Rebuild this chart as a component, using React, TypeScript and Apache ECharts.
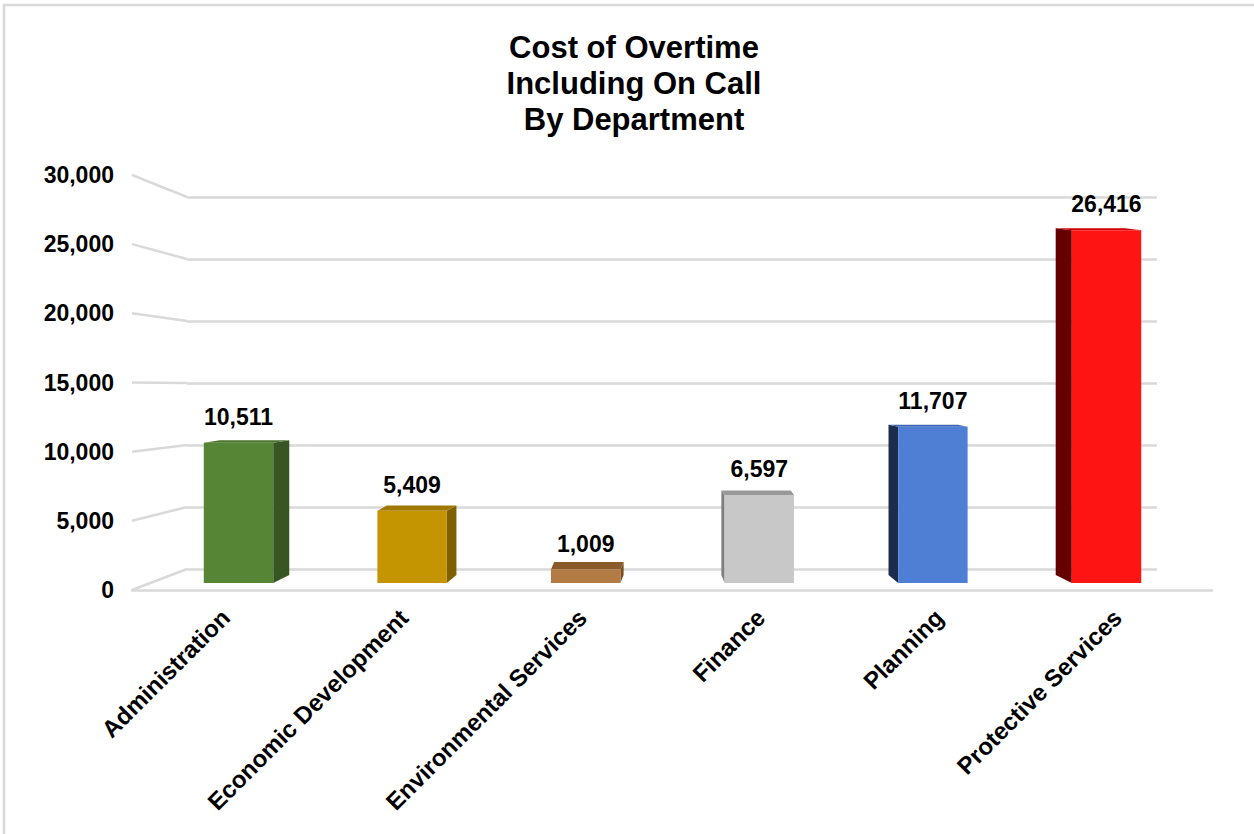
import React, { useEffect, useRef } from "react";
import * as echarts from "echarts";

const titleLines = ["Cost of Overtime", "Including On Call", "By Department"];
const categories = [
  "Administration",
  "Economic Development",
  "Environmental Services",
  "Finance",
  "Planning",
  "Protective Services",
];
const values = [10511, 5409, 1009, 6597, 11707, 26416];
const yTicks = [0, 5000, 10000, 15000, 20000, 25000, 30000];

const frontColors = ["#568536", "#C49500", "#B27B44", "#C8C8C8", "#4F7FD5", "#FF1414"];
const sideColors = ["#375623", "#7F6000", "#7A4E22", "#7F7F7F", "#1C2C4F", "#660000"];
const topColors = ["#4A742D", "#A07A00", "#8A5A2B", "#999999", "#3D66B0", "#CC0000"];

const FONT = "'Liberation Sans', Arial, sans-serif";
const GRID_COLOR = "#D9D9D9";
const fmt = (v: number) => v.toLocaleString("en-US");

export default function App() {
  const ref = useRef<HTMLDivElement>(null);
  useEffect(() => {
    document.body.style.margin = "0";
    const chart = echarts.init(ref.current!, undefined, { renderer: "svg" });
    const option: any = {
      animation: false,
      backgroundColor: "#ffffff",
      title: {
        text: titleLines.join("\n"),
        left: 629,
        top: 24,
        textAlign: "center",
        textStyle: {
          fontFamily: FONT,
          fontWeight: "bold",
          fontSize: 31,
          lineHeight: 36,
          color: "#000",
        },
      },
      grid: [
        { left: 132, top: 175, width: 1080, height: 415 },
        { left: 187, top: 197, width: 970, height: 372 },
        { left: 151.7, top: 182.5, width: 1041.6, height: 400.5 },
        { left: 144.8, top: 182.5, width: 1070.4, height: 400.5 },
      ],
      xAxis: [
        {
          gridIndex: 0,
          type: "value",
          min: 0,
          max: 1,
          axisLine: { show: true, lineStyle: { color: GRID_COLOR, width: 2.5 } },
          axisTick: { show: false },
          axisLabel: { show: false },
          splitLine: { show: false },
        },
        { gridIndex: 1, type: "value", min: 0, max: 1, show: false },
        {
          gridIndex: 2,
          type: "category",
          data: categories,
          axisLine: { show: false },
          axisTick: { show: false },
          axisLabel: { show: false },
        },
        {
          gridIndex: 3,
          type: "category",
          data: categories,
          axisLine: { show: false },
          axisTick: { show: false },
          axisLabel: {
            interval: 0,
            rotate: 45,
            margin: 22,
            padding: [0, 12, 0, 0],
            fontFamily: FONT,
            fontWeight: "bold",
            fontSize: 24,
            color: "#000",
          },
        },
      ],
      yAxis: [
        {
          gridIndex: 0,
          type: "value",
          min: 0,
          max: 30000,
          interval: 5000,
          axisLine: { show: false },
          axisTick: { show: false },
          splitLine: { show: false },
          axisLabel: {
            margin: 18,
            formatter: (v: number) => fmt(v),
            fontFamily: FONT,
            fontWeight: "bold",
            fontSize: 23,
            color: "#000",
          },
        },
        {
          gridIndex: 1,
          type: "value",
          min: 0,
          max: 30000,
          interval: 5000,
          axisLine: { show: false },
          axisTick: { show: false },
          axisLabel: { show: false },
          splitLine: { show: true, lineStyle: { color: GRID_COLOR, width: 2.5 } },
        },
        { gridIndex: 2, type: "value", min: 0, max: 30000, show: false },
        { gridIndex: 3, type: "value", min: 0, max: 30000, show: false },
      ],
      series: [
        {
          type: "custom",
          xAxisIndex: 2,
          yAxisIndex: 2,
          data: values.map((v, i) => [i, v]),
          renderItem: (params: any, api: any) => {
            const i = api.value(0);
            const v = api.value(1);
            const idx = params.dataIndex;
            const base = api.coord([i, 0]);
            const top = api.coord([i, v]);
            const bw = api.size([1, 0])[0] * 0.4;
            const cx = base[0];
            const x0 = cx - bw / 2;
            const x1 = cx + bw / 2;
            const yb = base[1];
            const yt = top[1];
            const dx = -(cx - 672) * 0.037;
            const dyOf = (y: number) => -Math.max(2, 2 + (6 * (y - 430)) / 153);
            const dyt = dyOf(yt);
            const dyb = dyOf(yb);
            const sx = dx > 0 ? x1 : x0;
            const children: any[] = [];
            children.push({
              type: "polygon",
              shape: {
                points: [
                  [sx, yt],
                  [sx + dx, yt + dyt],
                  [sx + dx, yb + dyb],
                  [sx, yb],
                ],
              },
              style: { fill: sideColors[idx] },
            });
            children.push({
              type: "polygon",
              shape: {
                points: [
                  [x0, yt],
                  [x1, yt],
                  [x1 + dx, yt + dyt],
                  [x0 + dx, yt + dyt],
                ],
              },
              style: { fill: topColors[idx] },
            });
            children.push({
              type: "rect",
              shape: { x: x0, y: yt, width: bw, height: yb - yt },
              style: { fill: frontColors[idx] },
            });
            children.push({
              type: "text",
              style: {
                text: fmt(v),
                x: cx,
                y: yt - 26,
                align: "center",
                verticalAlign: "middle",
                fontFamily: FONT,
                fontWeight: "bold",
                fontSize: 23,
                fill: "#000",
              },
            });
            return { type: "group", children };
          },
        },
      ],
    };
    chart.setOption(option);

    const fx = chart.convertToPixel({ xAxisIndex: 0 }, 0) as number;
    const bx = chart.convertToPixel({ xAxisIndex: 1 }, 0) as number;
    const sideLines = yTicks.map((t) => {
      const fy = chart.convertToPixel({ yAxisIndex: 0 }, t) as number;
      const by = chart.convertToPixel({ yAxisIndex: 1 }, t) as number;
      return {
        type: "line",
        silent: true,
        shape: { x1: fx, y1: fy, x2: bx, y2: by },
        style: { stroke: GRID_COLOR, lineWidth: 2.5 },
      };
    });
    chart.setOption({
      graphic: [
        {
          type: "rect",
          silent: true,
          shape: { x: 4, y: 5, width: 1300, height: 900 },
          style: { fill: "none", stroke: GRID_COLOR, lineWidth: 2.5 },
          z: -10,
        },
        ...sideLines,
      ],
    });
    return () => chart.dispose();
  }, []);
  return <div ref={ref} style={{ width: 1254, height: 834 }} />;
}
